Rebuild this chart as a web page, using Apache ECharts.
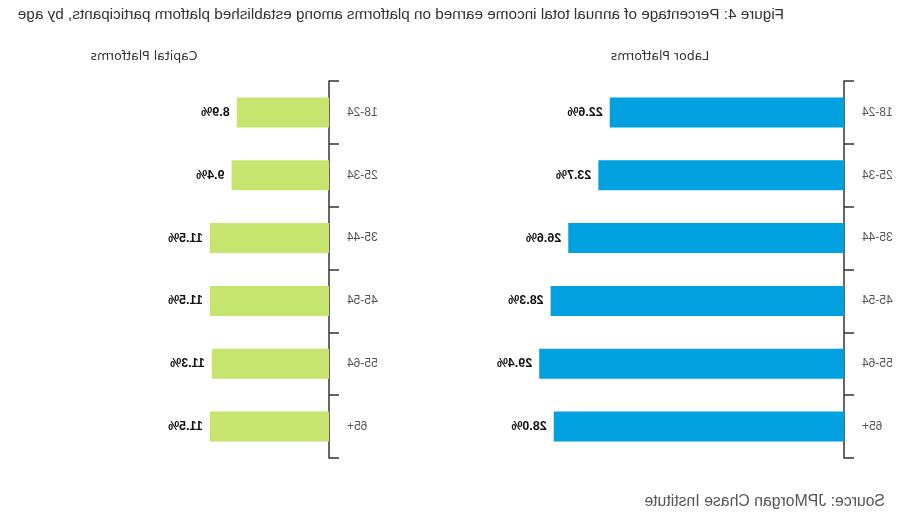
<!DOCTYPE html>
<html><head><meta charset="utf-8">
<script src="https://cdn.jsdelivr.net/npm/echarts@6/dist/echarts.min.js"></script>
<style>
html,body{margin:0;padding:0;background:#fff;}
#chart{width:910px;height:519px;transform:scaleX(-1);}
</style></head>
<body><div id="chart"></div>
<script>
const categories = ['18-24','25-34','35-44','45-54','55-64','65+'];
const laborValues = [22.6, 23.7, 26.6, 28.3, 29.4, 28.0];
const capitalValues = [8.9, 9.4, 11.5, 11.5, 11.3, 11.5];
const titleText = 'Figure 4: Percentage of annual total income earned on platforms among established platform participants, by age';
const laborTitle = 'Labor Platforms';
const capitalTitle = 'Capital Platforms';
const sourceText = 'Source: JPMorgan Chase Institute';

const chart = echarts.init(document.getElementById('chart'), null, {renderer:'canvas'});
const axisCol = '#333';
function yAx(gi){
  return {type:'category', gridIndex:gi, data:categories, inverse:true,
    axisLine:{show:true, lineStyle:{color:axisCol, width:1.5}},
    axisTick:{show:true, length:10, lineStyle:{color:axisCol, width:1.5}},
    axisLabel:{color:'#555', fontFamily:'Liberation Sans', fontSize:12, margin:18},
    splitLine:{show:false}};
}
function xAx(gi){
  return {type:'value', gridIndex:gi, min:0, max:30, show:false, splitLine:{show:false}};
}
function ser(gi, data, color){
  return {type:'bar', xAxisIndex:gi, yAxisIndex:gi, data:data, barWidth:30,
    itemStyle:{color:color}, silent:true,
    label:{show:true, position:'right', distance:7, color:'#111', fontWeight:'bold',
      fontFamily:'Liberation Sans', fontSize:12.5, formatter:p=>p.value.toFixed(1)+'%'}};
}
chart.setOption({
  animation:false,
  grid:[{left:66, top:81, width:311, height:377}, {left:581, top:81, width:311, height:377}],
  xAxis:[xAx(0), xAx(1)],
  yAxis:[yAx(0), yAx(1)],
  series:[ser(0, laborValues, '#00A1DE'), ser(1, capitalValues, '#C5E56E')],
  graphic:[
    {type:'text', left:126, top:7, style:{text:titleText, fill:'#333', font:'15.3px "Liberation Sans"'}},
    {type:'text', x:250, y:57, style:{text:laborTitle, fill:'#333', font:'12.5px "DejaVu Sans"', align:'center', verticalAlign:'middle'}},
    {type:'text', x:766, y:57, style:{text:capitalTitle, fill:'#333', font:'12.5px "DejaVu Sans"', align:'center', verticalAlign:'middle'}},
    {type:'text', left:25, top:494, style:{text:sourceText, fill:'#555', font:'15.8px "Liberation Sans"'}}
  ]
});
</script></body></html>
